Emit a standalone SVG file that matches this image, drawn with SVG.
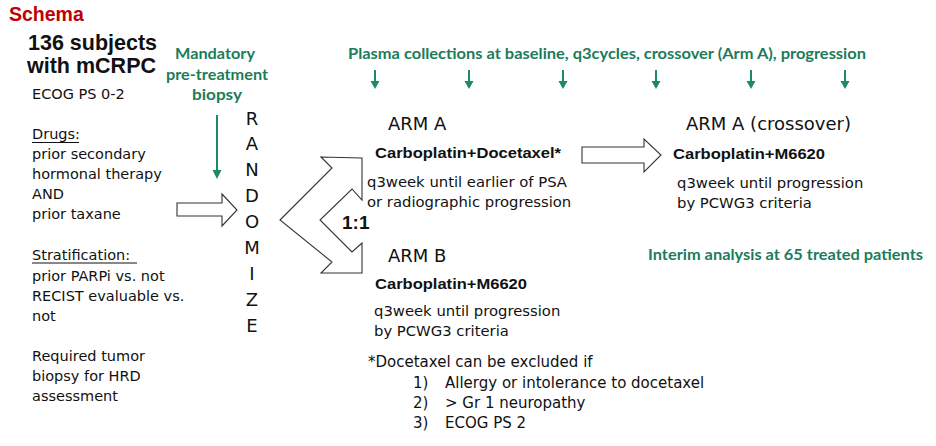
<svg xmlns="http://www.w3.org/2000/svg" width="936" height="446" viewBox="0 0 936 446">
<style>
.t{font-family:"DejaVu Sans",sans-serif;fill:#111;}
.l{font-size:14.5px;}
.a{font-size:14.8px;}
.f{font-size:15px;}
.big{font-family:"DejaVu Sans",sans-serif;font-size:18px;fill:#111;}
.b{font-family:"Liberation Sans",Arial,sans-serif;font-weight:bold;fill:#111;}
.g{font-family:Lato,"Open Sans",sans-serif;font-weight:bold;fill:#1b7c5b;font-size:15px;}
.shape{fill:#fff;stroke:#333;stroke-width:1.1;stroke-linejoin:miter;}
.ga{stroke:#1d8a62;stroke-width:2;fill:none;}
.gh{fill:#1d8a62;stroke:none;}
</style>
<rect width="936" height="446" fill="#fff"/>

<g id="title">
<text x="9" y="21" class="b" style="font-size:19.5px;fill:#c00000">Schema</text>
</g>

<g id="subjects">
<text x="28" y="50" class="b" style="font-size:21.5px">136 subjects</text>
<text x="27" y="73" class="b" style="font-size:21.5px">with mCRPC</text>
<text x="32" y="99" class="t l">ECOG PS 0-2</text>
<text x="32" y="139" class="t l">Drugs:</text>
<line x1="32" y1="142.5" x2="79" y2="142.5" stroke="#111" stroke-width="1"/>
<text x="32" y="159" class="t l">prior secondary</text>
<text x="32" y="179" class="t l">hormonal therapy</text>
<text x="32" y="199" class="t l">AND</text>
<text x="32" y="219" class="t l">prior taxane</text>
<text x="32" y="260" class="t l">Stratification:</text>
<line x1="32" y1="263" x2="137" y2="263" stroke="#111" stroke-width="1"/>
<text x="32" y="281" class="t l">prior PARPi vs. not</text>
<text x="32" y="301" class="t l">RECIST evaluable vs.</text>
<text x="32" y="321" class="t l">not</text>
<text x="32" y="361" class="t l">Required tumor</text>
<text x="32" y="381" class="t l">biopsy for HRD</text>
<text x="32" y="401" class="t l">assessment</text>
</g>

<g id="biopsy">
<text x="215" y="59" class="g" text-anchor="middle" textLength="80" lengthAdjust="spacingAndGlyphs">Mandatory</text>
<text x="217" y="80" class="g" text-anchor="middle" textLength="102" lengthAdjust="spacingAndGlyphs">pre-treatment</text>
<text x="217" y="100" class="g" text-anchor="middle" textLength="50" lengthAdjust="spacingAndGlyphs">biopsy</text>
</g>

<g id="randomize" class="big" text-anchor="middle">
<text x="252" y="125">R</text>
<text x="252" y="150">A</text>
<text x="252" y="176">N</text>
<text x="252" y="202">D</text>
<text x="252" y="228">O</text>
<text x="252" y="254">M</text>
<text x="252" y="280">I</text>
<text x="252" y="306">Z</text>
<text x="252" y="332">E</text>
</g>

<g id="plasma">
<text x="348" y="59" class="g" textLength="518" lengthAdjust="spacingAndGlyphs">Plasma collections at baseline, q3cycles, crossover (Arm A), progression</text>
</g>

<g id="armA">
<text x="388" y="130" class="big">ARM A</text>
<text x="375" y="158" class="b" style="font-size:15.5px" textLength="186" lengthAdjust="spacingAndGlyphs">Carboplatin+Docetaxel*</text>
<text x="367" y="187" class="t a">q3week until earlier of PSA</text>
<text x="367" y="207" class="t a">or radiographic progression</text>
</g>

<g id="armB">
<text x="388" y="262" class="big">ARM B</text>
<text x="375" y="289" class="b" style="font-size:15.5px" textLength="152" lengthAdjust="spacingAndGlyphs">Carboplatin+M6620</text>
<text x="374" y="316" class="t a">q3week until progression</text>
<text x="374" y="336" class="t a">by PCWG3 criteria</text>
</g>

<g id="crossover">
<text x="686" y="130" class="big">ARM A (crossover)</text>
<text x="673" y="159" class="b" style="font-size:15.5px" textLength="152" lengthAdjust="spacingAndGlyphs">Carboplatin+M6620</text>
<text x="677" y="188" class="t a">q3week until progression</text>
<text x="677" y="208" class="t a">by PCWG3 criteria</text>
</g>

<g id="interim">
<text x="648" y="260" class="g" textLength="275" lengthAdjust="spacingAndGlyphs">Interim analysis at 65 treated patients</text>
</g>

<g id="ratio">
<text x="342" y="229" class="b" style="font-size:19px">1:1</text>
</g>

<g id="footnote" class="t f">
<text x="368" y="367">*Docetaxel can be excluded if</text>
<text x="413" y="388">1)</text><text x="445" y="388">Allergy or intolerance to docetaxel</text>
<text x="413" y="408">2)</text><text x="445" y="408">&gt; Gr 1 neuropathy</text>
<text x="413" y="428">3)</text><text x="445" y="428">ECOG PS 2</text>
</g>

<g id="connectors">
<polygon class="shape" points="177,203 222,203 222,194 237,210 222,226 222,216 177,216"/>
<polygon class="shape" points="280,220 332,168 321,157 362,158 362,200 352,189 320,220 352,252 362,243 362,273 321,273 332,262"/>
<polygon class="shape" points="582,147 644,147 644,139 661,155 644,172 644,163 582,163"/>
<line class="ga" x1="217" y1="115" x2="217" y2="172"/>
<polygon class="gh" points="212.5,170 221.5,170 217,179"/>
<g>
<line class="ga" x1="375" y1="70" x2="375" y2="83"/><polygon class="gh" points="370.5,81 379.5,81 375,89"/>
<line class="ga" x1="469" y1="70" x2="469" y2="83"/><polygon class="gh" points="464.5,81 473.5,81 469,89"/>
<line class="ga" x1="563" y1="70" x2="563" y2="83"/><polygon class="gh" points="558.5,81 567.5,81 563,89"/>
<line class="ga" x1="656" y1="70" x2="656" y2="83"/><polygon class="gh" points="651.5,81 660.5,81 656,89"/>
<line class="ga" x1="751" y1="70" x2="751" y2="83"/><polygon class="gh" points="746.5,81 755.5,81 751,89"/>
<line class="ga" x1="845" y1="70" x2="845" y2="83"/><polygon class="gh" points="840.5,81 849.5,81 845,89"/>
</g>
</g>
</svg>
